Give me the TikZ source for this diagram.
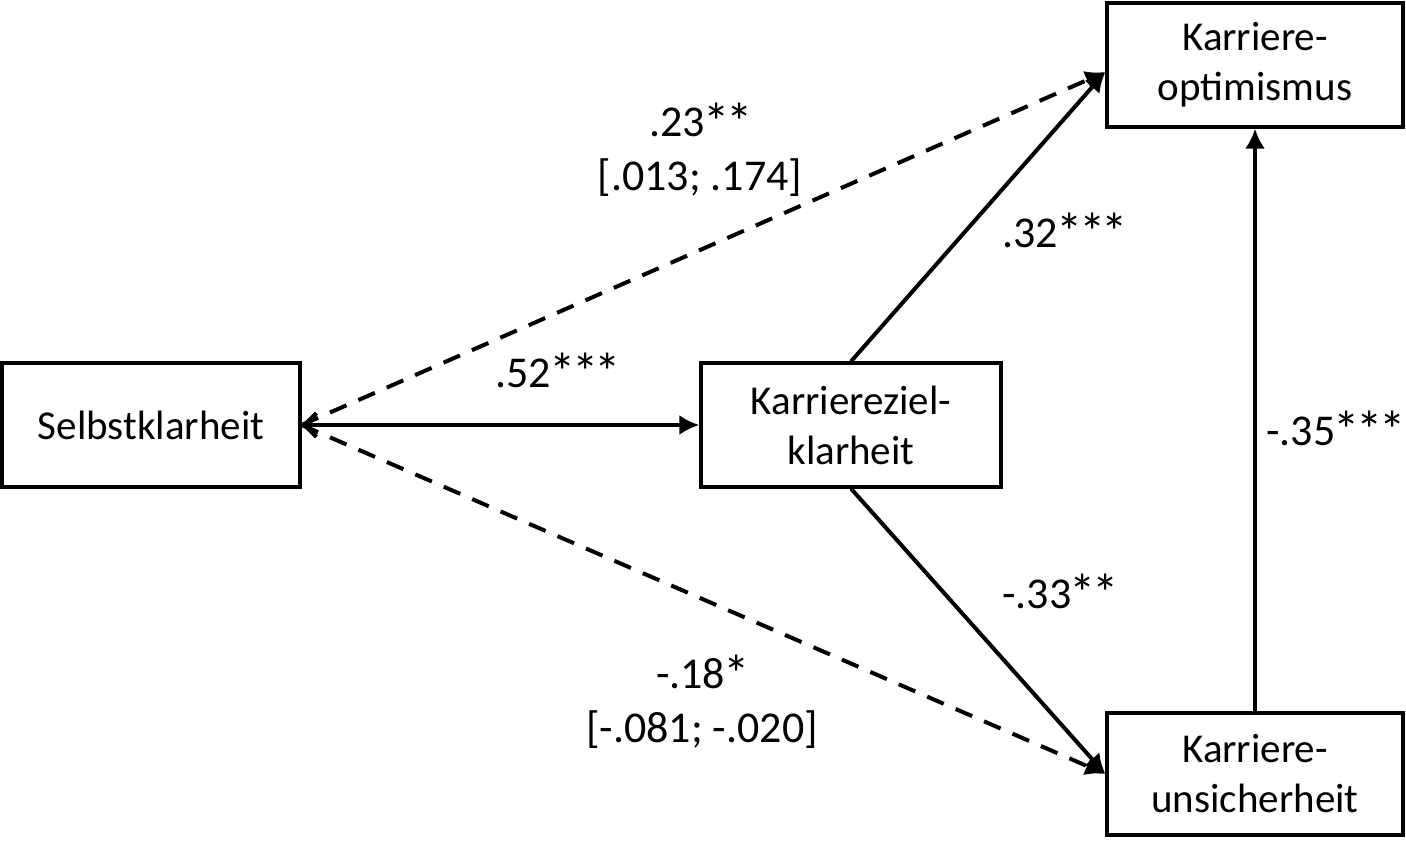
\documentclass[tikz,border=0pt]{standalone}
\usepackage{fontspec}
\setmainfont{Carlito}
\usetikzlibrary{arrows.meta,calc}
\newcommand{\mystar}{\kern-0.04em\raisebox{-0.08em}{\scalebox{1.2}{*}}\kern-0.04em}
\begin{document}
\begin{tikzpicture}[x=0.5pt,y=-0.5pt,
  box/.style={draw,line width=1.6pt,rectangle,inner sep=0pt,align=center,
    font=\fontsize{20.5}{25}\selectfont},
  lab/.style={inner sep=0pt,align=center,font=\fontsize{22}{27}\selectfont},
  conn/.style={line width=2pt,-{Latex[length=10pt,width=10pt]}},
  dsh/.style={conn,dash pattern=on 9pt off 6.5pt}]
\useasboundingbox (0,0) rectangle (1406,840);
\node[box,minimum width=149pt,minimum height=62pt] (sk) at (151,425) {Selbstklarheit};
\node[box,minimum width=150pt,minimum height=62pt] (kz) at (851,425) {Karriereziel-\\klarheit};
\node[box,minimum width=148pt,minimum height=62pt] (ko) at (1255,65) {Karriere-\\optimismus};
\node[box,minimum width=148pt,minimum height=61pt] (ku) at (1255,774) {Karriere-\\unsicherheit};
\coordinate (koin) at ([yshift=-3.5pt]ko.west);
\coordinate (kuin) at (ku.west);
\draw[line width=2pt,{Straight Barb[length=6pt,width=12pt]}-{Latex[length=10pt,width=10pt]}] (sk.east) -- (kz.west);
\draw[dsh] (sk.east) -- (koin);
\draw[dsh] (sk.east) -- (kuin);
\draw[conn] (kz.north) -- (koin);
\draw[conn] (kz.south) -- (kuin);
\draw[conn] (ku.north) -- (ko.south);
\node[lab] (l1) at (700,150) {.23\mystar\mystar\\{}[.013; .174]};
\node[lab,anchor=west] (l2) at (1002,232) {.32\mystar\mystar\mystar};
\node[lab,anchor=west] (l3) at (495,372) {.52\mystar\mystar\mystar};
\node[lab,anchor=west] (l4) at (1002,593) {-.33\mystar\mystar};
\node[lab] (l5) at (702,702) {-.18\mystar\\{}[-.081; -.020]};
\node[lab,anchor=west] (l6) at (1266,430) {-.35\mystar\mystar\mystar};
\end{tikzpicture}
\end{document}
